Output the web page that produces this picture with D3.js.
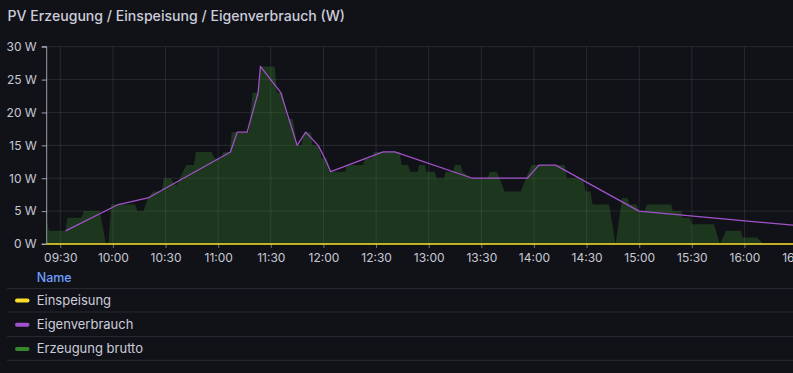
<!DOCTYPE html>
<html>
<head>
<meta charset="utf-8">
<script src="https://cdn.jsdelivr.net/npm/d3@7"></script>
<style>
  html, body { margin: 0; padding: 0; background: #111217; }
  svg { display: block; }
  text { font-family: Inter, "Noto Sans", sans-serif; }
</style>
</head>
<body>
<script>
// ---------- DATA ----------
const title = "PV Erzeugung / Einspeisung / Eigenverbrauch (W)";
const seriesNames = ["Einspeisung", "Eigenverbrauch", "Erzeugung brutto"];
const seriesColors = ["#fade2a", "#a352cc", "#37872d"];

const yTickValues = [0, 5, 10, 15, 20, 25, 30];
const yTickLabels = ["0 W", "5 W", "10 W", "15 W", "20 W", "25 W", "30 W"];
const xTickLabels = ["09:30","10:00","10:30","11:00","11:30","12:00","12:30","13:00","13:30","14:00","14:30","15:00","15:30","16:00","16:30"];
const xDomain = ["09:22:15", "16:27:40"];

const erzeugungTimes = ["09:21","09:23:30","09:33","09:34","09:42","09:43:30","09:52:30","09:56","09:57:30","09:59",
  "10:12:30","10:14","10:17:30","10:20","10:23","10:27:45","10:29","10:33","10:35:20","10:36:30",
  "10:41:45","10:46:10","10:47:20","10:56:10","10:58:05","11:01:55","11:02:50","11:06:35","11:07:45","11:17:30",
  "11:19:35","11:22:45","11:24:05","11:32:15","11:33:25","11:36:40","11:39:30","11:42:30","11:45","11:47:30",
  "11:49:05","11:52:50","11:53:45","11:57:20","11:58:55","12:01:45","12:04:10","12:12:25","12:13:05","12:22:35",
  "12:23:35","12:27:30","12:29","12:43:30","12:44:30","12:48:15","12:49:30","12:53:45","12:54:35","12:57:45",
  "12:58:40","13:03:25","13:04:35","13:08:45","13:09:40","13:14","13:14:50","13:18:15","13:19:20","13:24:20",
  "13:33:45","13:34:45","13:38:55","13:43:20","13:52:25","13:58:30","14:17:30","14:18:50","14:28","14:29:25",
  "14:32:15","14:33:25","14:42:50","14:46:30","14:50:20","14:53:15","14:54:30","14:58:30","14:59:50","15:03",
  "15:04:30","15:18:15","15:19:10","15:23:55","15:24:55","15:28:40","15:30","15:42:35","15:46","15:49:35",
  "15:57:55","15:58:50","16:07:05","16:10:50","16:31"];
const erzeugungValues = [5,2,2,4,4,5,5,0,0,6,
  6,5,5,7,8,8,10,10,9,9,
  12,12,14,14,13,13,14,14,17,17,
  23,23,27,27,23,23,19,19,15,15,
  17,17,15,15,13,13,11,11,12,12,
  13,13,14,14,12,12,11,11,12,12,
  11,11,10,10,11,11,12,12,11,10,
  10,11,11,8,8,12,12,10,10,8,
  8,6,6,0,7,7,6,6,5,5,
  6,6,5,5,4,4,3,3,0,2,
  2,1,1,0,0];

const eigenTimes = ["09:33","10:03","10:20","11:07","11:10:50","11:16:30","11:22:45","11:24:05","11:35:40","11:40:20",
  "11:45","11:49:55","11:57","12:00:50","12:04:10","12:34","12:40:40","13:24:55","13:56:10","14:02:50",
  "14:12:20","14:59:50","16:30"];
const eigenValues = [2,6,7,14,17,17,23,27,23,19,
  15,17,15,13,11,14,14,10,10,12,
  12,5,2.8];

const einspeisungTimes = ["09:21","16:31"];
const einspeisungValues = [0,0];

// ---------- LAYOUT ----------
const W = 793, H = 373;
const plot = { left: 46.7, right: 793, top: 46.7, bottom: 244 };

function parseT(s) {
  const p = s.split(":").map(Number);
  return new Date(2024, 0, 1, p[0], p[1], p[2] || 0);
}

const x = d3.scaleTime().domain(xDomain.map(parseT)).range([plot.left, plot.right]);
const y = d3.scaleLinear().domain([0, 30]).range([plot.bottom, plot.top]);

const svg = d3.select("body").append("svg").attr("width", W).attr("height", H);
svg.append("rect").attr("width", W).attr("height", H).attr("fill", "#111217");

svg.append("defs").append("clipPath").attr("id", "clip")
  .append("rect").attr("x", plot.left).attr("y", plot.top - 2)
  .attr("width", plot.right - plot.left).attr("height", plot.bottom - plot.top + 4);

// title
svg.append("text").attr("x", 7.5).attr("y", 20.5)
  .attr("fill", "#ccccdc").attr("font-size", 14.1).attr("font-weight", 500)
  .text(title);

const gridColor = "rgba(204,204,220,0.12)";
const textColor = "#c7c9d6";

// grid
const xTicks = xTickLabels.map(parseT);
svg.append("g").selectAll("line").data(xTicks).join("line")
  .attr("x1", d => x(d)).attr("x2", d => x(d))
  .attr("y1", plot.top).attr("y2", plot.bottom)
  .attr("stroke", gridColor).attr("stroke-width", 1);
svg.append("g").selectAll("line").data(yTickValues).join("line")
  .attr("x1", plot.left).attr("x2", plot.right)
  .attr("y1", d => y(d)).attr("y2", d => y(d))
  .attr("stroke", gridColor).attr("stroke-width", 1);

// y axis
const yAxis = d3.axisLeft(y).tickValues(yTickValues)
  .tickFormat((d, i) => yTickLabels[i]).tickSize(5).tickPadding(5);
const yg = svg.append("g").attr("transform", `translate(${plot.left},0)`).call(yAxis);
yg.select(".domain").attr("stroke", "rgba(204,204,220,0.75)").attr("d", `M-5,${plot.top}H0V${plot.bottom}H-5`);
yg.selectAll(".tick line").attr("stroke", "rgba(204,204,220,0.75)");
yg.selectAll(".tick text").attr("fill", textColor).attr("font-size", 12)
  .attr("font-family", "Inter, 'Noto Sans', sans-serif");

// x axis
const xAxis = d3.axisBottom(x).tickValues(xTicks)
  .tickFormat((d, i) => xTickLabels[i]).tickSize(4).tickPadding(5);
const xg = svg.append("g").attr("transform", `translate(0,${plot.bottom})`).call(xAxis);
xg.select(".domain").remove();
xg.selectAll(".tick line").attr("stroke", "rgba(204,204,220,0.5)");
xg.selectAll(".tick text").attr("fill", textColor).attr("font-size", 12)
  .attr("font-family", "Inter, 'Noto Sans', sans-serif");

// series
const g = svg.append("g").attr("clip-path", "url(#clip)");
const erz = erzeugungTimes.map((t, i) => ({ t: parseT(t), v: erzeugungValues[i] }));
const eig = eigenTimes.map((t, i) => ({ t: parseT(t), v: eigenValues[i] }));
const ein = einspeisungTimes.map((t, i) => ({ t: parseT(t), v: einspeisungValues[i] }));

g.append("path").datum(erz)
  .attr("d", d3.area().x(d => x(d.t)).y0(y(0)).y1(d => y(d.v)))
  .attr("fill", "rgb(58,140,48)").attr("fill-opacity", 0.3);

g.append("path").datum(eig)
  .attr("d", d3.line().x(d => x(d.t)).y(d => y(d.v)))
  .attr("fill", "none").attr("stroke", seriesColors[1]).attr("stroke-width", 1.25)
  .attr("stroke-linejoin", "round");

g.append("path").datum(ein)
  .attr("d", d3.line().x(d => x(d.t)).y(d => y(d.v)))
  .attr("fill", "none").attr("stroke", seriesColors[0]).attr("stroke-width", 1.5);

// legend
const lg = svg.append("g");
lg.append("text").attr("x", 36.7).attr("y", 281.5)
  .attr("fill", "#6e9fff").attr("font-size", 12.5).attr("font-weight", 500).text("Name");
const sepY = [288.5, 312, 336.5, 360.3];
lg.selectAll("line.sep").data(sepY).join("line").attr("class", "sep")
  .attr("x1", 7).attr("x2", W).attr("y1", d => d).attr("y2", d => d)
  .attr("stroke", "rgba(204,204,220,0.13)").attr("stroke-width", 1);
const rowY = [300.5, 324.8, 349];
const rows = lg.selectAll("g.row").data(seriesNames).join("g").attr("class", "row")
  .attr("transform", (d, i) => `translate(0,${rowY[i]})`);
rows.append("line").attr("x1", 17).attr("x2", 27.5).attr("y1", 0).attr("y2", 0)
  .attr("stroke", (d, i) => seriesColors[i]).attr("stroke-width", 4).attr("stroke-linecap", "round");
rows.append("text").attr("x", 36.7).attr("y", 4.3)
  .attr("fill", "#ccccdc").attr("font-size", 13).text(d => d);
</script>
</body>
</html>
